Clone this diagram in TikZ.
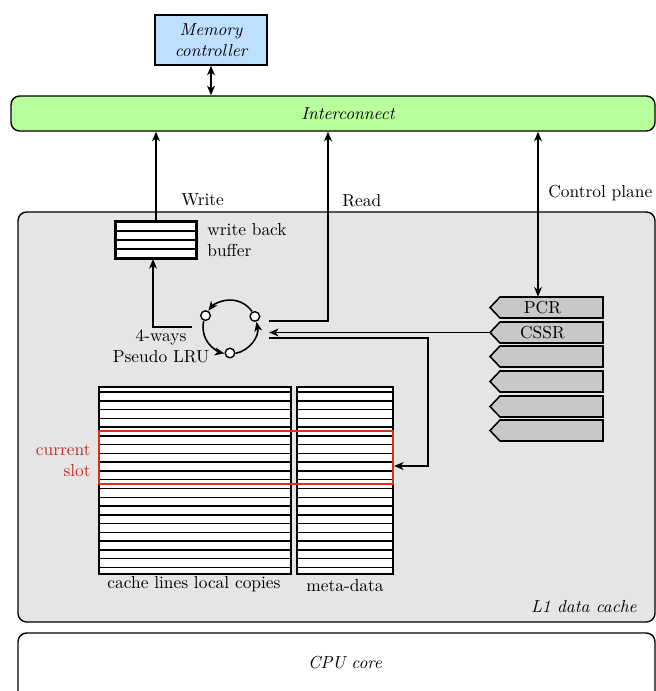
\documentclass[tikz,border=0pt]{standalone}
\usetikzlibrary{fit,arrows.meta,calc}
\definecolor{memblue}{HTML}{BFDFFF}
\definecolor{icgreen}{HTML}{B8FF9C}
\definecolor{cachegray}{HTML}{E5E5E5}
\definecolor{reggray}{HTML}{C8C8C8}
\definecolor{slotred}{rgb}{0.86,0.18,0.10}
\definecolor{slottext}{rgb}{0.80,0.15,0.15}
\begin{document}
\begin{tikzpicture}[x=0.575pt,y=-0.575pt,
  box/.style={draw,line width=0.8pt,inner sep=0pt},
  rbox/.style={box,rounded corners=5pt},
  tbox/.style={draw,line width=1.2pt,inner sep=0pt},
  arr/.style={line width=0.9pt,-{Stealth[length=5.5pt,width=4.5pt,inset=1.6pt]}},
  darr/.style={line width=0.9pt,{Stealth[length=5.5pt,width=4.5pt,inset=1.6pt]}-{Stealth[length=5.5pt,width=4.5pt,inset=1.6pt]}},
  rowline/.style={line width=0.85pt},
  lrunode/.style={circle,draw,fill=white,line width=0.8pt,inner sep=0pt,minimum size=5.5pt},
  lbl/.style={inner sep=0pt,font=\normalsize},
  reg/.style={draw,line width=0.9pt,fill=reggray}
]
\useasboundingbox (0,0) rectangle (656,691);
\clip (0,0) rectangle (656,691);

% big boxes
\node[rbox,fill=cachegray,fit={(18,212)(655,622)}] (l1) {};
\node[lbl,anchor=east,font=\itshape] (l1lbl) at (637,607) {L1 data cache};
\node[rbox,fill=white,fit={(18,633)(655,730)}] (cpu) {};
\node[lbl,font=\itshape] (cpulbl) at (345,663) {CPU core};
\node[rbox,fill=icgreen,fit={(11,96)(655,131)}] (inter) {};
\node[lbl,font=\itshape] (interlbl) at (348,114) {Interconnect};
\node[box,fill=memblue,fit={(155,15)(267,65)}] (mem) {};
\node[lbl,font=\itshape,align=center] (memlbl) at (211,40) {Memory\\controller};

\draw[darr] (mem.south) -- (mem.south |- inter.north);

% write back buffer
\node[tbox,fill=white,fit={(116,222)(196,258)}] (wbb) {};
\foreach \yy in {231,240,249} \draw[rowline] (116,\yy) -- (196,\yy);
\draw[line width=1.2pt] (wbb.south west) rectangle (wbb.north east);
\node[lbl,anchor=west,align=left] (wbblbl) at (207,240) {write back\\buffer};

% LRU
\coordinate (lc) at (230,327);
\node[lrunode] (n1) at ($(lc)+(-23:27)$) {};
\node[lrunode] (n2) at ($(lc)+(-155:27)$) {};
\node[lrunode] (n3) at ($(lc)+(90:26)$) {};
\draw[arr] ($(lc)+(-35:27)$) arc[start angle=-35,end angle=-143,radius=27];
\draw[arr] ($(lc)+(193:27)$) arc[start angle=193,end angle=102,radius=27];
\draw[arr] ($(lc)+(78:27)$) arc[start angle=78,end angle=-11,radius=27];
\node[fit={(199,300)(269,356)},inner sep=0pt] (lru) {};
\node[lbl,align=center] (lrulbl) at (161,346) {4-ways\\Pseudo LRU};
\coordinate (r0) at (192,327);
\coordinate (r1) at (269,321);
\coordinate (r2) at (269,332);
\coordinate (r3) at (269,338);

% registers
\foreach \nm/\ya/\yb/\tx in {pcr/297/318/PCR, cssr/322/343/CSSR, rg3/346/367/, rg4/371/392/, rg5/396/417/, rg6/420/441/}{
  \draw[reg] (500,\ya) -- (603,\ya) -- (603,\yb) -- (500,\yb) -- (490,{(\ya+\yb)/2}) -- cycle;
  \node[inner sep=0pt,fit={(490,\ya)(603,\yb)}] (\nm) {};
  \node[lbl] (\nm lbl) at ($(\nm.center)+(-4,0)$) {\tx};
}

% cache blocks
\node[fit={(99,387)(291,574)},inner sep=0pt,fill=white] (lines) {};
\node[fit={(297,387)(393,574)},inner sep=0pt,fill=white] (meta) {};
\foreach \k in {0,...,20}{
  \draw[rowline] (99,{392+\k*8.77}) -- (291,{392+\k*8.77});
  \draw[rowline] (297,{392+\k*8.77}) -- (393,{392+\k*8.77});
}
\draw[line width=1.2pt] (lines.south west) rectangle (lines.north east);
\draw[line width=1.2pt] (meta.south west) rectangle (meta.north east);
\node[draw=slotred,line width=1.1pt,inner sep=0pt,fit={(99,431)(393,484)}] (slot) {};
\node[lbl,anchor=east,align=right,text=slottext] (slotlbl) at (91,461) {current\\slot};
\node[lbl] (lineslbl) at (194,584) {cache lines local copies};
\node[lbl] (metalbl) at (345,586) {meta-data};
\coordinate (mt) at (394,466);

% connectors
\draw[arr] (wbb.north) -- (wbb.north |- inter.south);
\node[lbl,anchor=west] (writelbl) at (181,200) {Write};
\draw[arr] (r0) -| (wbb.south -| 153,0);
\coordinate (rx) at (328,0);
\draw[arr] (r1) -| (rx |- inter.south);
\node[lbl,anchor=west] (readlbl) at (342,201) {Read};
\coordinate (cx) at (538,0);
\draw[darr] (cx |- inter.south) -- (cx |- pcr.north);
\node[lbl,anchor=west] (cplbl) at (548,193) {Control plane};
\draw[arr] (cssr.west) -- (r2 |- cssr.west);
\draw[arr] (r3) -| (428,466) -- (mt);
\end{tikzpicture}
\end{document}
